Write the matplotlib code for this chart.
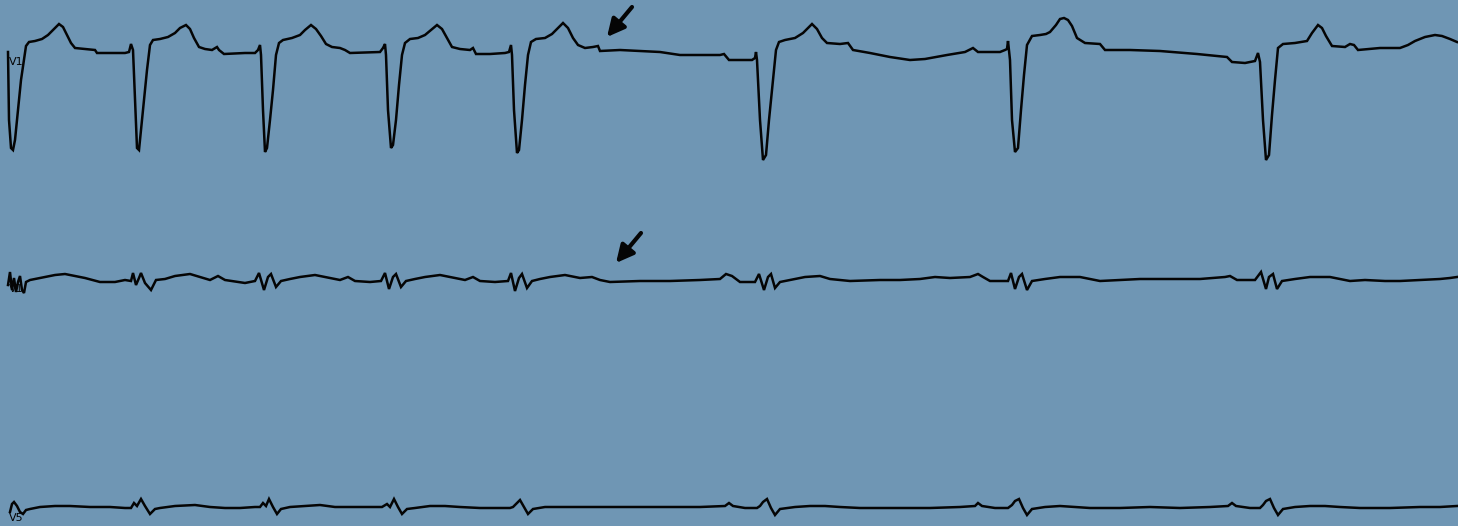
import matplotlib
matplotlib.use("Agg")
import matplotlib.pyplot as plt
import numpy as np

# rhythm strip: time in ms, amplitude in mV relative to each lead's baseline
v1_ms = [40, 45, 55, 65, 75, 90, 105, 120, 130, 145, 175, 210, 240, 265, 295, 315, 335, 355, 375, 425, 475, 485, 625, 645, 655,
         665, 675, 685, 695, 705, 720, 735, 750, 765, 800, 840, 875, 900, 930, 950, 970, 995, 1025, 1060, 1085, 1095, 1120, 1225, 1275, 1290, 1300,
         1305, 1315, 1325, 1335, 1350, 1365, 1380, 1395, 1415, 1460, 1500, 1525, 1555, 1580, 1605, 1630, 1660, 1700, 1725, 1750, 1900, 1915, 1925,
         1930, 1940, 1955, 1965, 1980, 1995, 2010, 2025, 2050, 2090, 2125, 2155, 2185, 2210, 2235, 2260, 2300, 2350, 2365, 2380, 2450, 2525, 2545, 2555,
         2560, 2570, 2585, 2595, 2610, 2625, 2640, 2655, 2680, 2725, 2760, 2785, 2815, 2840, 2865, 2890, 2925, 2965, 2990, 3000, 3100, 3200, 3300,
         3400, 3600, 3620, 3645, 3760, 3775, 3780, 3785, 3800, 3815, 3830, 3845, 3865, 3880, 3895, 3925, 3975, 4015, 4040, 4060, 4085, 4110, 4135,
         4200, 4240, 4265, 4350, 4450, 4550, 4625, 4735, 4825, 4865, 4890, 5000, 5025, 5035, 5040, 5050, 5060, 5075, 5090, 5105, 5120, 5135, 5160,
         5200, 5230, 5250, 5280, 5300, 5320, 5340, 5360, 5385, 5425, 5500, 5525, 5650, 5800, 5985, 6135, 6160, 6225, 6275, 6290, 6300, 6315, 6330,
         6345, 6360, 6375, 6390, 6415, 6475, 6535, 6560, 6590, 6610, 6630, 6660, 6725, 6750, 6770, 6790, 6900, 7000, 7040, 7075, 7125, 7175, 7210,
         7250, 7285]
v1_mv = [-0.02, -0.70, -0.98, -1.00, -0.90, -0.60, -0.30, -0.10, 0.04, 0.08, 0.09, 0.11, 0.15, 0.20, 0.26, 0.23, 0.15, 0.07, 0.02, 0.01, 0.00, -0.03, -0.03, -0.02, 0.06,
         0.00, -0.50, -0.98, -1.00, -0.80, -0.50, -0.20, 0.05, 0.10, 0.11, 0.13, 0.17, 0.22, 0.25, 0.21, 0.12, 0.03, 0.01, 0.00, 0.03, 0.00, -0.04, -0.03, -0.03, 0.00, 0.05,
         -0.05, -0.60, -1.02, -0.98, -0.70, -0.40, -0.05, 0.07, 0.10, 0.12, 0.15, 0.20, 0.25, 0.21, 0.14, 0.06, 0.03, 0.02, 0.00, -0.03, -0.02, 0.02, 0.06,
         -0.05, -0.60, -0.98, -0.95, -0.70, -0.35, -0.05, 0.07, 0.11, 0.12, 0.15, 0.20, 0.25, 0.21, 0.12, 0.03, 0.01, 0.00, 0.02, -0.04, -0.04, -0.03, -0.02, 0.05,
         -0.05, -0.60, -1.03, -1.00, -0.70, -0.35, -0.05, 0.08, 0.11, 0.12, 0.16, 0.21, 0.27, 0.22, 0.12, 0.05, 0.02, 0.03, 0.04, -0.01, 0.00, -0.01, -0.02,
         -0.05, -0.05, -0.04, -0.10, -0.10, -0.08, -0.02, -0.10, -0.70, -1.10, -1.05, -0.70, -0.30, 0.00, 0.08, 0.10, 0.12, 0.17, 0.22, 0.26, 0.21, 0.12, 0.07,
         0.06, 0.07, 0.00, -0.03, -0.07, -0.10, -0.09, -0.05, -0.02, 0.02, -0.02, -0.02, 0.00, 0.01, 0.09, -0.10, -0.70, -1.02, -0.98, -0.60, -0.25, 0.05, 0.14,
         0.15, 0.16, 0.18, 0.25, 0.31, 0.32, 0.30, 0.24, 0.12, 0.07, 0.06, 0.00, 0.00, -0.01, -0.04, -0.07, -0.12, -0.13, -0.11, -0.03, -0.12, -0.70, -1.10,
         -1.05, -0.65, -0.30, 0.02, 0.06, 0.07, 0.09, 0.17, 0.25, 0.22, 0.14, 0.04, 0.03, 0.06, 0.05, 0.00, 0.02, 0.02, 0.05, 0.09, 0.13, 0.15, 0.14,
         0.11, 0.08]

mid_ms = [40, 50, 60, 70, 80, 90, 100, 110, 120, 130, 150, 200, 275, 325, 375, 425, 500, 575, 625, 655,
          665, 680, 695, 705, 725, 755, 780, 825, 875, 950, 1000, 1050, 1090, 1125, 1225, 1275,
          1295, 1320, 1340, 1355, 1380, 1405, 1450, 1500, 1575, 1650, 1700, 1740, 1775, 1850, 1905,
          1925, 1945, 1965, 1980, 2005, 2030, 2075, 2125, 2200, 2275, 2325, 2365, 2400, 2475, 2540,
          2555, 2575, 2595, 2610, 2635, 2660, 2700, 2750, 2825, 2900, 2960, 3000, 3050, 3200, 3350, 3500, 3600, 3630, 3660, 3700, 3775,
          3795, 3820, 3840, 3855, 3875, 3900, 3950, 4025, 4100, 4150, 4250, 4400, 4500, 4600, 4675, 4750, 4850, 4890, 4915, 4950, 5040,
          5055, 5075, 5095, 5110, 5135, 5160, 5225, 5300, 5400, 5450, 5500, 5600, 5700, 5800, 5900, 6000, 6125, 6150, 6185, 6275,
          6305, 6330, 6345, 6365, 6385, 6410, 6475, 6550, 6650, 6700, 6750, 6825, 6925, 7000, 7100, 7200, 7250, 7285]
mid_mv = [-0.05, 0.08, -0.10, 0.02, -0.12, -0.02, 0.04, -0.10, -0.13, -0.02, 0.00, 0.02, 0.05, 0.06, 0.04, 0.02, -0.02, -0.02, 0.00, -0.01,
          0.07, -0.05, 0.02, 0.07, -0.03, -0.10, 0.00, 0.01, 0.04, 0.06, 0.03, 0.00, 0.04, 0.00, -0.03, -0.01,
          0.07, -0.10, 0.03, 0.06, -0.07, -0.01, 0.01, 0.03, 0.05, 0.02, 0.00, 0.03, -0.01, -0.02, -0.01,
          0.07, -0.09, 0.03, 0.06, -0.07, -0.01, 0.01, 0.03, 0.05, 0.02, 0.00, 0.03, -0.01, -0.02, -0.01,
          0.07, -0.11, 0.02, 0.06, -0.08, -0.01, 0.01, 0.03, 0.05, 0.02, 0.03, 0.00, -0.02, -0.01, -0.01, 0.00, 0.01, 0.06, 0.04, -0.02, -0.02,
          0.06, -0.10, 0.03, 0.06, -0.08, -0.02, 0.00, 0.03, 0.04, 0.01, -0.01, 0.00, 0.00, 0.01, 0.03, 0.02, 0.03, 0.06, 0.03, -0.01, -0.01,
          0.07, -0.09, 0.03, 0.06, -0.10, -0.01, 0.01, 0.03, 0.03, 0.01, -0.01, 0.00, 0.01, 0.01, 0.01, 0.01, 0.03, 0.04, 0.00, 0.00,
          0.08, -0.09, 0.03, 0.06, -0.09, -0.01, 0.01, 0.03, 0.03, 0.01, -0.01, 0.00, -0.01, -0.01, 0.00, 0.01, 0.02, 0.03]

v5_ms = [50, 60, 70, 85, 100, 115, 130, 150, 200, 275, 350, 450, 550, 625, 655,
         670, 685, 705, 725, 750, 775, 800, 875, 975, 1050, 1125, 1200, 1275,
         1300, 1315, 1330, 1345, 1365, 1385, 1405, 1450, 1525, 1600, 1675, 1750, 1850, 1910,
         1935, 1950, 1970, 1990, 2010, 2035, 2075, 2150, 2225, 2300, 2400, 2500, 2550,
         2565, 2580, 2600, 2620, 2640, 2665, 2725, 2800, 2900, 3000, 3100, 3250, 3500, 3625, 3645, 3665, 3725, 3785,
         3800, 3815, 3835, 3855, 3875, 3900, 3975, 4050, 4125, 4200, 4300, 4400, 4500, 4650, 4800, 4875, 4890, 4910, 4975, 5040,
         5060, 5075, 5095, 5115, 5135, 5160, 5225, 5300, 5375, 5450, 5600, 5750, 5900, 6050, 6140, 6160, 6180, 6250, 6300,
         6315, 6330, 6350, 6370, 6390, 6415, 6475, 6550, 6625, 6700, 6800, 6950, 7100, 7200, 7285]
v5_mv = [-0.04, 0.04, 0.06, 0.02, -0.04, -0.06, -0.02, -0.01, 0.01, 0.02, 0.02, 0.01, 0.01, 0.00, 0.00,
         0.05, 0.02, 0.09, 0.02, -0.06, -0.01, 0.00, 0.02, 0.03, 0.01, 0.00, 0.00, 0.01,
         0.01, 0.05, 0.02, 0.09, 0.01, -0.06, -0.01, 0.01, 0.02, 0.03, 0.01, 0.01, 0.01, 0.01,
         0.04, 0.01, 0.09, 0.01, -0.06, -0.01, 0.00, 0.02, 0.02, 0.01, 0.00, 0.00, 0.00,
         0.01, 0.04, 0.08, 0.01, -0.06, -0.01, 0.01, 0.01, 0.01, 0.01, 0.01, 0.01, 0.01, 0.02, 0.05, 0.02, 0.00, 0.00,
         0.02, 0.06, 0.09, 0.00, -0.07, -0.01, 0.01, 0.02, 0.02, 0.01, 0.00, 0.00, 0.00, 0.00, 0.01, 0.02, 0.05, 0.02, 0.00, 0.00,
         0.03, 0.07, 0.09, 0.00, -0.07, -0.01, 0.01, 0.02, 0.01, 0.00, 0.00, 0.01, 0.00, 0.01, 0.02, 0.05, 0.02, 0.00, 0.00,
         0.03, 0.07, 0.09, 0.00, -0.07, -0.01, 0.01, 0.02, 0.02, 0.01, 0.00, 0.00, 0.01, 0.01, 0.02]

lead_names = ["V1", "V1", "V5"]
lead_offsets = [-0.50, -2.80, -5.08]   # baseline of each trace on the strip (mV)
arrow_ms = [3035, 3080]                # where the arrows point (ms), top and middle lead

BG = "#6f96b4"
INK = "#050505"

fig = plt.figure(figsize=(14.58, 5.26), dpi=100)
fig.patch.set_facecolor(BG)
ax = fig.add_axes([0, 0, 1, 1])
ax.set_facecolor(BG)
ax.set_xlim(0, 7290)
ax.set_ylim(-5.26, 0)
ax.axis("off")

traces = [(v1_ms, v1_mv), (mid_ms, mid_mv), (v5_ms, v5_mv)]
for (t, mv), off in zip(traces, lead_offsets):
    ax.plot(t, np.array(mv) + off, color=INK, lw=1.8, solid_joinstyle="miter")

# lead labels sit just under the start of each trace
label_dy = [-0.12, -0.09, -0.10]
for name, off, dy in zip(lead_names, lead_offsets, label_dy):
    ax.text(45, off + dy, name, fontsize=8, color=INK, ha="left", va="center",
            family="DejaVu Sans")

# arrows marking the non-conducted beat
arrow_targets = [lead_offsets[0] + 0.13, lead_offsets[1] + 0.17]
for t, y in zip(arrow_ms, arrow_targets):
    ax.annotate("", xy=(t, y), xytext=(t + 125, y + 0.30),
                arrowprops=dict(arrowstyle="-|>", color=INK, lw=3,
                                mutation_scale=26, shrinkA=0, shrinkB=0))

fig.savefig("out.png", dpi=100, facecolor=BG)
